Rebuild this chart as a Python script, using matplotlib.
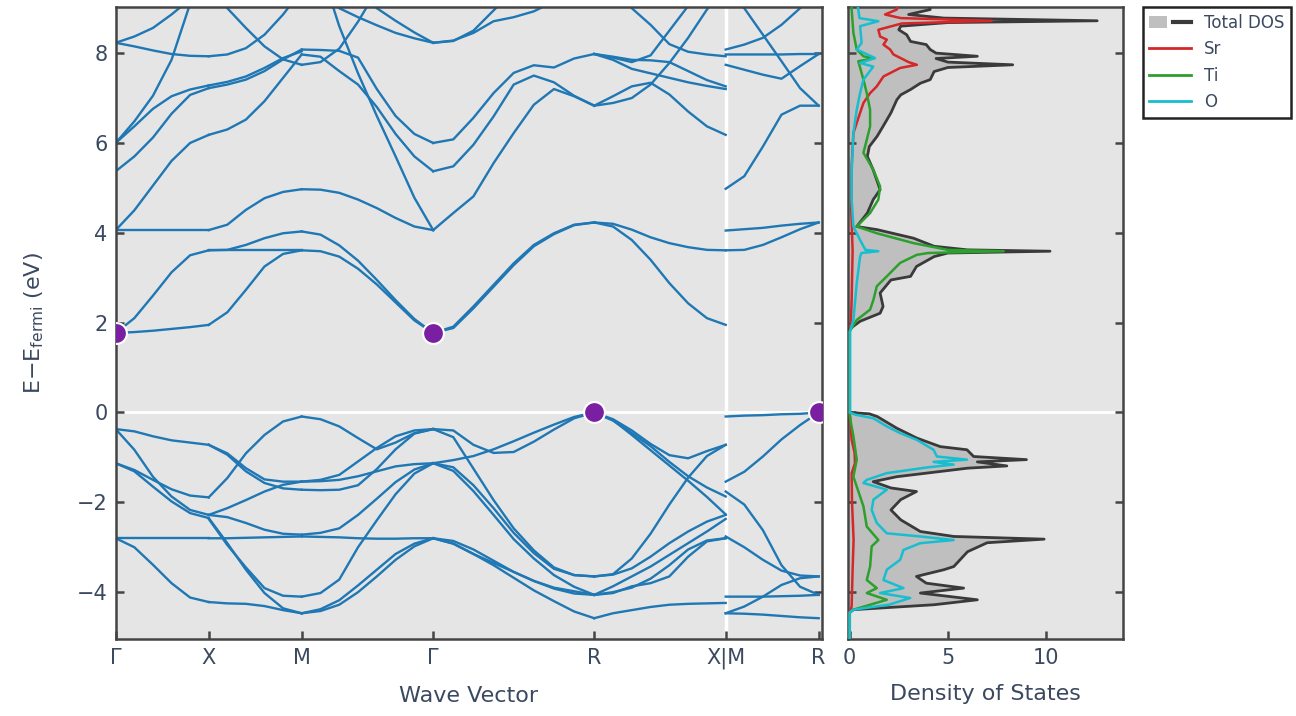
import numpy as np
import matplotlib.pyplot as plt
from matplotlib.patches import Patch
from matplotlib.lines import Line2D
from matplotlib.legend_handler import HandlerTuple

# high-symmetry points along the path (cumulative |k|, simple cubic)
kpoint_labels = ['Γ', 'X', 'M', 'Γ', 'R', 'X|M', 'R']
kpoint_dist = [0.0, 0.5, 1.0, 1.7071, 2.5731, 3.2802, 3.7802]

# band energies (eV, E - E_fermi) read along each segment
bands_GX = [
    [-0.37, -0.42, -0.53, -0.62, -0.67, -0.72],
    [-0.37, -0.83, -1.43, -1.87, -2.17, -2.28],
    [-1.13, -1.28, -1.50, -1.71, -1.85, -1.89],
    [-1.13, -1.31, -1.65, -1.98, -2.24, -2.35],
    [-2.80, -2.80, -2.80, -2.80, -2.80, -2.80],
    [-2.80, -3.00, -3.39, -3.80, -4.12, -4.22],
    [1.77, 1.79, 1.82, 1.86, 1.90, 1.95],
    [1.77, 2.10, 2.60, 3.12, 3.50, 3.61],
    [4.06, 4.06, 4.06, 4.06, 4.06, 4.06],
    [4.06, 4.50, 5.05, 5.60, 6.00, 6.18],
    [5.37, 5.70, 6.12, 6.65, 7.07, 7.22],
    [6.00, 6.37, 6.76, 7.04, 7.19, 7.28],
    [6.00, 6.48, 7.05, 7.85, 9.10, 10.0],
    [8.23, 8.15, 8.06, 7.98, 7.94, 7.93],
    [8.23, 8.37, 8.56, 8.86, 9.20, 9.60],
]
bands_XM = [
    [-0.72, -0.91, -1.24, -1.49, -1.54, -1.54],
    [-0.72, -0.94, -1.31, -1.57, -1.69, -1.72],
    [-1.89, -1.46, -0.91, -0.50, -0.20, -0.09],
    [-2.28, -2.13, -1.95, -1.76, -1.61, -1.54],
    [-2.28, -2.33, -2.46, -2.61, -2.70, -2.72],
    [-2.35, -2.91, -3.50, -4.02, -4.36, -4.47],
    [-2.37, -2.95, -3.45, -3.91, -4.08, -4.10],
    [-2.80, -2.80, -2.79, -2.78, -2.77, -2.76],
    [-4.22, -4.25, -4.26, -4.31, -4.40, -4.47],
    [1.95, 2.23, 2.73, 3.25, 3.53, 3.61],
    [3.61, 3.61, 3.61, 3.61, 3.61, 3.61],
    [3.61, 3.62, 3.73, 3.88, 3.99, 4.03],
    [4.06, 4.18, 4.51, 4.77, 4.91, 4.97],
    [6.18, 6.30, 6.52, 6.93, 7.45, 7.97],
    [7.22, 7.30, 7.41, 7.60, 7.86, 8.08],
    [7.28, 7.36, 7.48, 7.67, 7.89, 8.04],
    [7.93, 7.97, 8.11, 8.41, 8.86, 9.40],
    [9.67, 9.00, 8.56, 8.15, 7.86, 7.74],
]
bands_MG = [
    [-0.09, -0.15, -0.31, -0.57, -0.82, -0.67, -0.46, -0.37],
    [-1.54, -1.50, -1.39, -1.09, -0.79, -0.53, -0.40, -0.37],
    [-1.54, -1.53, -1.50, -1.42, -1.31, -1.20, -1.15, -1.13],
    [-1.72, -1.73, -1.72, -1.62, -1.26, -0.82, -0.47, -0.37],
    [-2.72, -2.68, -2.58, -2.28, -1.92, -1.55, -1.27, -1.13],
    [-2.76, -2.77, -2.78, -2.80, -2.81, -2.81, -2.80, -2.80],
    [-4.10, -4.02, -3.72, -3.00, -2.40, -1.82, -1.36, -1.13],
    [-4.47, -4.38, -4.18, -3.85, -3.50, -3.15, -2.92, -2.80],
    [-4.47, -4.42, -4.28, -4.00, -3.65, -3.28, -2.98, -2.80],
    [4.03, 3.96, 3.72, 3.38, 2.95, 2.50, 2.08, 1.77],
    [3.61, 3.59, 3.47, 3.20, 2.85, 2.45, 2.05, 1.77],
    [4.97, 4.96, 4.89, 4.74, 4.55, 4.33, 4.14, 4.06],
    [10.8, 9.90, 8.60, 7.55, 6.60, 5.70, 4.78, 4.06],
    [7.97, 7.92, 7.60, 7.30, 6.80, 6.20, 5.70, 5.37],
    [8.08, 8.07, 8.05, 7.90, 7.20, 6.60, 6.20, 6.00],
    [7.74, 7.80, 8.10, 8.70, 9.40, 10.0, 10.5, 11.0],
    [10.0, 9.50, 9.00, 8.80, 8.62, 8.45, 8.33, 8.23],
    [11.0, 10.5, 10.0, 9.50, 9.00, 8.72, 8.46, 8.23],
]
bands_GR = [
    [-0.37, -0.40, -0.72, -0.90, -0.88, -0.65, -0.38, -0.13, 0.00],
    [-1.13, -1.06, -0.97, -0.82, -0.64, -0.45, -0.27, -0.10, 0.00],
    [-0.37, -0.55, -1.25, -1.95, -2.58, -3.07, -3.45, -3.62, -3.65],
    [-1.13, -1.22, -1.62, -2.13, -2.68, -3.13, -3.48, -3.62, -3.65],
    [-1.13, -1.30, -1.75, -2.28, -2.82, -3.25, -3.62, -3.88, -4.06],
    [-2.80, -2.86, -3.05, -3.30, -3.55, -3.75, -3.90, -3.98, -4.06],
    [-2.80, -2.92, -3.15, -3.35, -3.55, -3.75, -3.92, -4.03, -4.06],
    [-2.80, -2.92, -3.15, -3.40, -3.68, -3.96, -4.20, -4.43, -4.58],
    [1.77, 1.91, 2.36, 2.84, 3.32, 3.73, 3.99, 4.18, 4.23],
    [1.77, 1.88, 2.32, 2.80, 3.28, 3.70, 3.97, 4.17, 4.23],
    [4.06, 4.44, 4.81, 5.55, 6.22, 6.85, 7.20, 7.04, 6.83],
    [5.37, 5.48, 5.96, 6.59, 7.30, 7.50, 7.35, 7.05, 6.83],
    [6.00, 6.08, 6.56, 7.11, 7.56, 7.73, 7.68, 7.88, 7.98],
    [8.23, 8.28, 8.45, 8.71, 8.80, 8.93, 9.15, 9.50, 9.90],
    [8.23, 8.27, 8.50, 8.95, 9.40, 9.90, 10.4, 10.9, 11.4],
]
bands_RX = [
    [0.00, -0.18, -0.46, -0.75, -1.10, -1.42, -1.67, -1.87],
    [0.00, -0.17, -0.50, -0.84, -1.18, -1.52, -1.88, -2.27],
    [0.00, -0.15, -0.40, -0.70, -0.95, -1.02, -0.86, -0.72],
    [-3.65, -3.60, -3.25, -2.70, -2.05, -1.45, -0.97, -0.72],
    [-3.65, -3.61, -3.47, -3.21, -2.91, -2.65, -2.43, -2.28],
    [-4.06, -3.87, -3.65, -3.43, -3.17, -2.91, -2.65, -2.37],
    [-4.06, -4.02, -3.87, -3.80, -3.65, -3.21, -2.87, -2.80],
    [-4.06, -4.00, -3.90, -3.70, -3.40, -3.05, -2.85, -2.80],
    [-4.58, -4.47, -4.40, -4.33, -4.28, -4.26, -4.25, -4.24],
    [4.23, 4.20, 4.07, 3.90, 3.77, 3.68, 3.62, 3.61],
    [4.23, 4.14, 3.84, 3.40, 2.88, 2.43, 2.10, 1.95],
    [6.83, 7.04, 7.26, 7.34, 7.08, 6.70, 6.37, 6.18],
    [6.83, 6.89, 7.00, 7.30, 7.78, 8.34, 8.97, 9.50],
    [7.98, 7.92, 7.85, 7.84, 7.80, 7.60, 7.40, 7.26],
    [7.98, 7.85, 7.65, 7.55, 7.45, 7.35, 7.27, 7.20],
    [7.98, 7.90, 7.80, 7.95, 8.50, 9.05, 9.60, 10.1],
    [10.2, 9.60, 9.00, 8.63, 8.20, 8.03, 7.97, 7.93],
]
bands_MR = [
    [-0.09, -0.07, -0.06, -0.04, -0.03, 0.00],
    [-1.54, -1.32, -0.98, -0.60, -0.28, 0.00],
    [-1.76, -2.05, -2.62, -3.40, -3.88, -4.06],
    [-2.76, -3.00, -3.28, -3.52, -3.63, -3.65],
    [-4.10, -4.10, -4.10, -4.09, -4.08, -4.06],
    [-4.47, -4.32, -4.10, -3.84, -3.69, -3.65],
    [-4.47, -4.48, -4.50, -4.53, -4.56, -4.58],
    [3.61, 3.62, 3.73, 3.90, 4.08, 4.23],
    [4.05, 4.08, 4.11, 4.16, 4.20, 4.23],
    [4.98, 5.26, 5.92, 6.63, 6.83, 6.83],
    [7.74, 7.63, 7.52, 7.43, 7.71, 7.98],
    [7.97, 7.97, 7.97, 7.97, 7.98, 7.98],
    [8.08, 8.19, 8.34, 8.63, 9.00, 9.40],
    [9.60, 9.00, 8.41, 7.82, 7.22, 6.83],
]

# band edges
cbm_k = [0.0, 1.7071]
cbm_e = [1.77, 1.77]
vbm_k = [2.5731, 3.7802]
vbm_e = [0.0, 0.0]

# density of states (energy in eV, states/eV)
total_E = [9.10, 8.97, 8.86, 8.78, 8.72, 8.68, 8.60, 8.52, 8.41, 8.26, 8.19, 8.08, 8.00, 7.93, 7.88,
           7.80, 7.74, 7.68, 7.59, 7.41, 7.33, 7.19, 7.07, 6.96, 6.67, 6.37, 6.15, 5.92, 5.70, 5.40,
           4.96, 4.74, 4.44, 4.14, 4.07, 3.88, 3.70, 3.62, 3.59, 3.55, 3.47, 3.25, 3.03, 2.95, 2.66,
           2.36, 2.21, 2.03, 1.92, 1.85, 0.02, 0.0, -0.03, -0.09, -0.35, -0.57, -0.76, -0.83, -0.98,
           -1.05, -1.10, -1.19, -1.24, -1.43, -1.54, -1.68, -1.76, -1.94, -2.17, -2.39, -2.65, -2.76,
           -2.82, -2.90, -3.10, -3.43, -3.50, -3.65, -3.80, -3.91, -4.02, -4.17, -4.28, -4.39, -4.45, -5.1]
total_D = [4.0, 4.1, 3.0, 4.8, 12.6, 5.0, 2.6, 2.5, 2.9, 3.1, 3.9, 4.1, 4.4, 6.5, 4.4,
           5.0, 8.3, 5.0, 4.3, 4.1, 3.6, 3.1, 2.6, 2.4, 2.1, 1.7, 1.4, 1.0, 0.9, 1.2,
           1.55, 1.2, 0.9, 0.36, 1.4, 3.25, 4.3, 6.0, 10.2, 5.0, 4.3, 3.4, 3.1, 2.1, 1.55,
           1.7, 1.55, 0.53, 0.19, 0.0, 0.0, 0.0, 1.0, 1.4, 2.4, 3.42, 4.61, 5.97, 6.31,
           9.0, 6.5, 8.0, 6.0, 2.4, 1.2, 2.1, 3.4, 2.6, 2.1, 2.6, 3.6, 5.3,
           9.9, 7.0, 6.0, 5.3, 4.8, 3.4, 3.9, 5.8, 3.6, 6.5, 4.3, 0.2, 0.0, 0.0]

sr_E = [9.10, 8.97, 8.86, 8.78, 8.72, 8.66, 8.52, 8.37, 8.30, 8.19, 8.08, 7.97, 7.80, 7.74, 7.67,
        7.48, 7.26, 7.11, 6.89, 6.67, 6.22, 5.48, 4.50, 3.60, 2.50, 1.90, 1.80, 0.0, -0.30, -0.61,
        -0.90, -1.13, -1.35, -2.00, -2.84, -3.50, -4.32, -4.45, -5.1]
sr_D = [2.5, 2.4, 1.8, 2.6, 7.24, 2.65, 1.46, 1.55, 1.89, 1.72, 2.06, 2.23, 3.0, 3.42, 2.57,
        1.72, 1.38, 1.04, 0.7, 0.53, 0.19, 0.1, 0.08, 0.15, 0.1, 0.05, 0.0, 0.0, 0.05, 0.1,
        0.25, 0.27, 0.1, 0.12, 0.2, 0.15, 0.1, 0.0, 0.0]

ti_E = [9.10, 8.97, 8.45, 8.08, 7.93, 7.88, 7.82, 7.41, 7.11, 6.74, 6.37, 6.07, 5.78, 5.40, 5.03,
        4.74, 4.44, 4.14, 3.99, 3.77, 3.62, 3.59, 3.55, 3.51, 3.33, 3.03, 2.81, 2.51, 2.29, 2.06,
        1.84, 1.80, 0.0, -0.20, -0.53, -1.05, -1.43, -1.65, -2.09, -2.54, -2.84, -2.98, -3.43,
        -3.73, -3.91, -4.02, -4.17, -4.39, -4.45, -5.1]
ti_D = [0.1, 0.1, 0.19, 0.36, 0.7, 1.2, 0.44, 0.7, 0.87, 1.04, 1.04, 0.87, 0.7, 1.21, 1.55,
        1.46, 1.04, 0.36, 1.38, 3.25, 5.0, 7.84, 4.0, 3.42, 2.57, 1.89, 1.38, 1.21, 1.04, 0.36,
        0.05, 0.0, 0.0, 0.05, 0.19, 0.36, 0.19, 0.36, 0.7, 0.87, 1.46, 1.12, 1.04,
        0.87, 1.38, 0.87, 1.89, 0.19, 0.0, 0.0]

o_E = [9.10, 8.97, 8.78, 8.71, 8.60, 8.23, 8.08, 7.89, 7.78, 7.70, 7.41, 7.11, 6.74, 6.22, 5.33,
       4.74, 4.14, 3.84, 3.62, 3.59, 3.55, 3.47, 2.88, 2.06, 1.85, 1.80, 0.02, 0.0, -0.05, -0.13,
       -0.31, -0.46, -0.61, -0.83, -0.98, -1.05, -1.10, -1.16, -1.22, -1.35, -1.50, -1.57, -1.72,
       -1.94, -2.17, -2.46, -2.69, -2.76, -2.84, -2.91, -3.06, -3.28, -3.50, -3.73, -3.91, -4.02,
       -4.13, -4.28, -4.39, -4.45, -5.1]
o_D = [0.4, 0.44, 0.5, 1.46, 0.53, 0.61, 0.36, 1.29, 0.53, 1.2, 0.7, 0.53, 0.36, 0.19, 0.1,
       0.1, 0.19, 0.53, 0.8, 1.46, 0.6, 0.53, 0.36, 0.19, 0.05, 0.02, 0.02, 0.0, 0.3, 1.21,
       1.89, 2.57, 3.42, 4.27, 4.44, 5.97, 4.27, 5.29, 4.0, 1.89, 0.87, 0.7, 1.89,
       1.21, 1.12, 1.38, 1.89, 3.59, 5.29, 3.59, 2.74, 2.57, 1.89, 1.72, 2.74, 1.55,
       3.08, 2.0, 0.19, 0.0, 0.0]

text_color = '#3b4960'
spine_color = '#444444'
band_color = '#1f77b4'

fig = plt.figure(figsize=(12.96, 7.16), dpi=100)
ax = fig.add_axes([0.0893, 0.1071, 0.5448, 0.8827])
ax_dos = fig.add_axes([0.65455, 0.1071, 0.21219, 0.8827], sharey=ax)

segments = [(0, 1, bands_GX), (1, 2, bands_XM), (2, 3, bands_MG),
            (3, 4, bands_GR), (4, 5, bands_RX), (5, 6, bands_MR)]
for i0, i1, bands in segments:
    for band in bands:
        k = np.linspace(kpoint_dist[i0], kpoint_dist[i1], len(band))
        ax.plot(k, band, color=band_color, lw=1.7, zorder=2)

ax.axhline(0, color='white', lw=2, zorder=1)
ax.axvline(kpoint_dist[5], color='white', lw=2.5, zorder=1)
ax.plot(cbm_k, cbm_e, 'o', ms=15, mfc='#7b1fa2', mec='white', mew=1.5, zorder=4)
ax.plot(vbm_k, vbm_e, 'o', ms=15, mfc='#7b1fa2', mec='white', mew=1.5, zorder=4)

ax.set_xlim(0, 3.797)
ax.set_ylim(-5.05, 9.02)
ax.set_xticks(kpoint_dist)
ax.set_xticklabels(kpoint_labels)
ax.set_yticks([-4, -2, 0, 2, 4, 6, 8])
ax.set_xlabel('Wave Vector', fontsize=16, color=text_color, labelpad=12)
ax.set_ylabel(r'$\mathrm{E{-}E_{fermi}}$ (eV)', fontsize=16, color=text_color, labelpad=22)

# DOS panel
ax_dos.fill_betweenx(total_E, 0, total_D, facecolor='#bfbfbf', edgecolor='none', zorder=1)
ax_dos.axhline(0, color='white', lw=2, zorder=1.5)
ax_dos.plot(total_D, total_E, color='#3a3a3a', lw=2, zorder=3)
ax_dos.plot(sr_D, sr_E, color='#d62728', lw=1.8, zorder=3)
ax_dos.plot(ti_D, ti_E, color='#2ca02c', lw=1.8, zorder=3)
ax_dos.plot(o_D, o_E, color='#17becf', lw=1.8, zorder=3)
ax_dos.set_xlim(-0.07, 13.93)
ax_dos.set_xticks([0, 5, 10])
ax_dos.set_xlabel('Density of States', fontsize=16, color=text_color, labelpad=12)

for a in (ax, ax_dos):
    a.set_facecolor('#e5e5e5')
    for s in a.spines.values():
        s.set_color(spine_color)
        s.set_linewidth(1.8)
    a.tick_params(direction='in', length=6, width=1.8, color=spine_color,
                  labelcolor=text_color, labelsize=15, pad=6, right=True, top=False)
ax_dos.tick_params(labelleft=False)

handles = [(Patch(facecolor='#bfbfbf', edgecolor='none'), Line2D([], [], color='#3a3a3a', lw=3)),
           Line2D([], [], color='#d62728', lw=2),
           Line2D([], [], color='#2ca02c', lw=2),
           Line2D([], [], color='#17becf', lw=2)]
leg = ax_dos.legend(handles, ['Total DOS', 'Sr', 'Ti', 'O'],
                    handler_map={tuple: HandlerTuple(ndivide=None)},
                    loc='upper left', bbox_to_anchor=(1.07, 1.0), borderaxespad=0,
                    fontsize=12, frameon=True, fancybox=False, framealpha=1,
                    edgecolor='#222222', handlelength=2.5)
leg.get_frame().set_linewidth(1.8)
for t in leg.get_texts():
    t.set_color(text_color)

fig.savefig('out.png', dpi=100)
